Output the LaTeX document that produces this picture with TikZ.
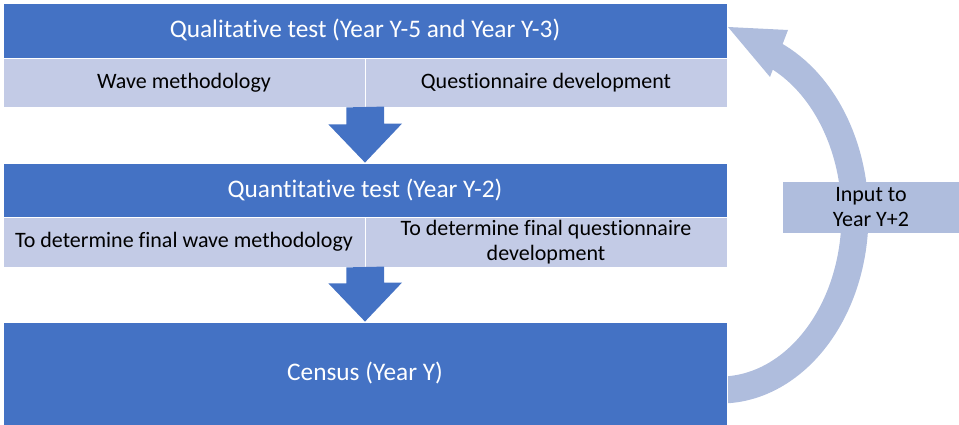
\documentclass[tikz,border=0pt]{standalone}
\usepackage{fontspec}
\setmainfont{Carlito}[Ligatures=NoCommon]
\definecolor{ofblue}{RGB}{68,114,196}
\definecolor{oflight}{RGB}{195,203,230}
\definecolor{ofloop}{RGB}{175,189,221}
\usetikzlibrary{calc}

\begin{document}
\begin{tikzpicture}[x=1pt, y=1pt,
    stage/.style={rectangle, minimum width=724pt, draw=white, line width=0.8pt,
      fill=ofblue, text=white, inner sep=0pt, font=\fontsize{25.3}{30}\selectfont},
    task/.style={rectangle, minimum width=362pt, minimum height=49pt, draw=white, line width=0.8pt,
      fill=oflight, text=black, align=center, inner sep=0pt, font=\fontsize{22}{25}\selectfont},
    blockarr/.style={fill=ofblue},
    looparr/.style={draw=ofloop, line width=27pt}
  ]
    \useasboundingbox (0,0) rectangle (959,425);
    % Feedback loop (tail hidden behind the census block)
    \coordinate (loopc) at (720,210);
    \coordinate (looptip) at (728,398);
    \draw[looparr] ($(loopc)+(-95:135pt and 175pt)$)
      arc[start angle=-95, end angle=67, x radius=135pt, y radius=175pt];
    \fill[ofloop] (looptip) -- ++(60,-3) -- ++(-18,-47) -- cycle;
    % Stage 1: qualitative test
    \node[stage, minimum height=55pt] (qual) at (365,394.5)
      {Qualitative test (Year Y-5 and Year Y-3)};
    \node[task] (wave) at (184,342.5) {Wave methodology};
    \node[task] (qnr) at (546,342.5) {Questionnaire development};
    % Stage 2: quantitative test
    \node[stage, minimum height=54pt] (quant) at (365,235)
      {Quantitative test (Year Y-2)};
    \node[task, minimum height=50pt] (finwave) at (184,183)
      {To determine final wave methodology};
    \node[task, minimum height=50pt] (finqnr) at (546,183)
      {To determine final questionnaire\\development};
    % Stage 3: census
    \node[stage, minimum height=103pt] (census) at (365,51.5) {Census (Year Y)};
    % Block arrows
    \fill[blockarr] ($(wave.south east)+(-19,0)$) -- ++(0,-17) -- ++(-18,0)
      -- (quant.north) -- ++(37,39) -- ++(-18,0) -- ++(0,17) -- cycle;
    \fill[blockarr] ($(finwave.south east)+(-19,0)$) -- ++(0,-16) -- ++(-18,0)
      -- (census.north) -- ++(37,39) -- ++(-18,0) -- ++(0,16) -- cycle;
    % Loop label
    \node[task, minimum width=176pt, minimum height=51pt, fill=ofloop, draw=none] (input)
      at (871,217.5) {Input to\\Year Y+2};
  \end{tikzpicture}
\end{document}
